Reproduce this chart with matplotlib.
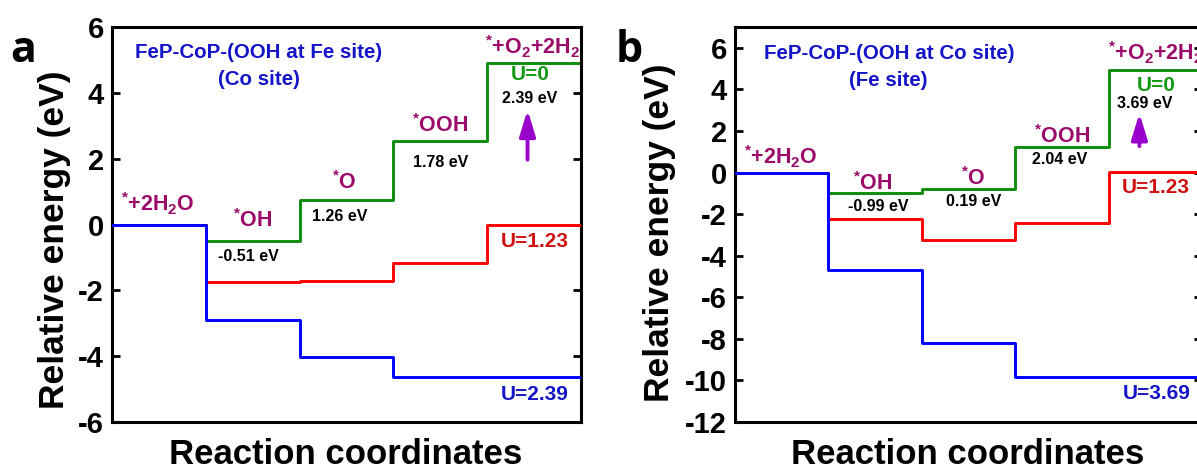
import numpy as np
import matplotlib
matplotlib.use("Agg")
import matplotlib.pyplot as plt

plt.rcParams["font.family"] = ["Liberation Sans", "DejaVu Sans"]
plt.rcParams["font.weight"] = "bold"
plt.rcParams["axes.unicode_minus"] = False
plt.rcParams["mathtext.fontset"] = "custom"
plt.rcParams["mathtext.rm"] = "Liberation Sans:bold"
plt.rcParams["mathtext.it"] = "Liberation Sans:bold"
plt.rcParams["mathtext.bf"] = "Liberation Sans:bold"
plt.rcParams["mathtext.default"] = "rm"

# Free-energy change of each OER step at U = 0 (eV)
steps_a = [-0.51, 1.26, 1.78, 2.39]
steps_b = [-0.99, 0.19, 2.04, 3.69]
# Applied potentials (V) drawn for each model
potentials_a = [0, 1.23, 2.39]
potentials_b = [0, 1.23, 3.69]
# Intermediates along the reaction coordinate
species = [r"$^{*}$+2H$_2$O", r"$^{*}$OH", r"$^{*}$O", r"$^{*}$OOH", r"$^{*}$+O$_2$+2H$_2$"]
titles_a = ["FeP-CoP-(OOH at Fe site)", "(Co site)"]
titles_b = ["FeP-CoP-(OOH at Co site)", "(Fe site)"]
yticks_a = [-6, -4, -2, 0, 2, 4, 6]
yticks_b = [-12, -10, -8, -6, -4, -2, 0, 2, 4, 6]

LINE_COLORS = ["#0c8c0c", "#ff0000", "#0000ff"]
LABEL_COLORS = ["#119911", "#d01010", "#1414c8"]
SPECIES_COLOR = "#9c0a6a"
TITLE_COLOR = "#1414c8"
ARROW_COLOR = "#9900cc"

W, H = 1197, 471
fig = plt.figure(figsize=(W / 100, H / 100), dpi=100)


def px_rect(left, top, width, height):
    return [left / W, 1 - (top + height) / H, width / W, height / H]


def levels_at(steps, U):
    g = np.concatenate([[0.0], np.cumsum(steps)])
    n = np.arange(len(g))
    return g - n * U


def draw_panel(ax, steps, potentials, ylim, yticks):
    x = np.arange(len(steps) + 2)
    for k, U in enumerate(potentials):
        lv = levels_at(steps, U)
        y = np.append(lv, lv[-1])
        ax.step(x, y, where="post", color=LINE_COLORS[k], lw=2.1, zorder=2 + k)
    ax.set_xlim(0, len(steps) + 1)
    ax.set_ylim(*ylim)
    ax.set_yticks(yticks)
    ax.set_xticks([])
    ax.tick_params(axis="y", direction="in", length=5.5, width=2.0,
                   labelsize=21, pad=6, left=True, right=True)
    for s in ax.spines.values():
        s.set_linewidth(2.2)


def label(ax, x, y, s, color, size):
    ax.text(x, y, s, color=color, fontsize=size, fontweight="bold",
            ha="center", va="center", zorder=6)


def arrow(ax, x, y0, y1):
    ax.annotate("", xy=(x, y1), xytext=(x, y0),
                arrowprops=dict(arrowstyle="-|>,head_width=0.4,head_length=1.3",
                                mutation_scale=12, color=ARROW_COLOR, lw=2.8,
                                shrinkA=0, shrinkB=0), zorder=6)


# ---------------- panel a ----------------
ax_a = fig.add_axes(px_rect(112, 27, 469, 395))
draw_panel(ax_a, steps_a, potentials_a, (-6, 6), yticks_a)
label(ax_a, 1.56, 5.24, titles_a[0], TITLE_COLOR, 14.8)
label(ax_a, 1.57, 4.42, titles_a[1], TITLE_COLOR, 14.8)
sp_pos_a = [(0.49, 0.62), (1.5, 0.12), (2.48, 1.27), (3.5, 3.0), (4.48, 5.39)]
for (x, y), s in zip(sp_pos_a, species):
    label(ax_a, x, y, s, SPECIES_COLOR, 15.5)
ev_pos_a = [(1.45, -0.98), (2.43, 0.24), (3.5, 1.88), (4.45, 3.82)]
for (x, y), v in zip(ev_pos_a, steps_a):
    label(ax_a, x, y, f"{v:.2f} eV", "black", 11.5)
u_pos_a = [(4.46, 4.55), (4.51, -0.52), (4.51, -5.15)]
for k, ((x, y), U) in enumerate(zip(u_pos_a, potentials_a)):
    label(ax_a, x, y, f"U={U:g}", LABEL_COLORS[k], 15)
arrow(ax_a, 4.43, 1.97, 3.48)

# ---------------- panel b ----------------
ax_b = fig.add_axes(px_rect(735, 27, 467, 395))
draw_panel(ax_b, steps_b, potentials_b, (-12, 7), yticks_b)
label(ax_b, 1.65, 5.74, titles_b[0], TITLE_COLOR, 14.8)
label(ax_b, 1.64, 4.44, titles_b[1], TITLE_COLOR, 14.8)
sp_pos_b = [(0.49, 0.74), (1.47, -0.51), (2.55, -0.27), (3.5, 1.75), (4.5, 5.74)]
for (x, y), s in zip(sp_pos_b, species):
    label(ax_b, x, y, s, SPECIES_COLOR, 15.5)
ev_pos_b = [(1.53, -1.62), (2.55, -1.38), (3.48, 0.64), (4.39, 3.33)]
for (x, y), v in zip(ev_pos_b, steps_b):
    label(ax_b, x, y, f"{v:.2f} eV", "black", 11.5)
u_pos_b = [(4.51, 4.2), (4.5, -0.7), (4.52, -10.62)]
for k, ((x, y), U) in enumerate(zip(u_pos_b, potentials_b)):
    label(ax_b, x, y, f"U={U:g}", LABEL_COLORS[k], 15)
arrow(ax_b, 4.33, 1.27, 2.85)

# ---------------- shared labels ----------------
for cx, cy in [(55, 240), (659, 233)]:
    fig.text(cx / W, 1 - cy / H, "Relative energy (eV)", rotation=90,
             fontsize=25.5, fontweight="bold", ha="center", va="center")
for cx in [346, 968]:
    fig.text(cx / W, 1 - 464 / H, "Reaction coordinates",
             fontsize=25, fontweight="bold", ha="center", va="baseline")
for px, s in [(10, "a"), (616, "b")]:
    fig.text(px / W, 1 - 62 / H, s, family="Open Sans", fontsize=31,
             fontweight="bold", ha="left", va="baseline")

fig.savefig("out.png", dpi=100)
